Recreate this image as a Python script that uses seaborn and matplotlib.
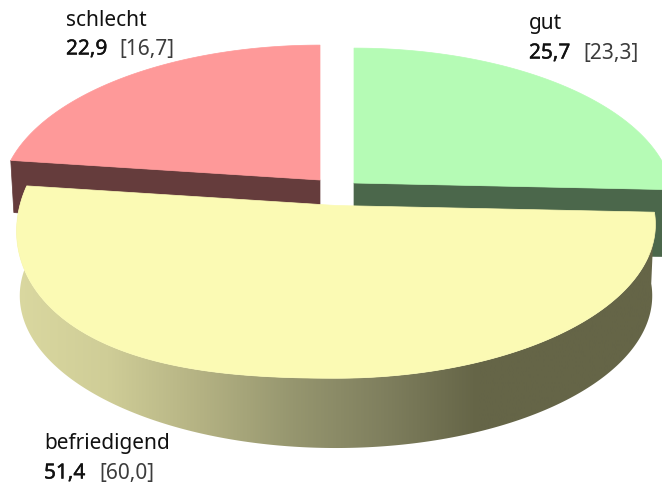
import numpy as np
import pandas as pd
import seaborn as sns
import matplotlib.pyplot as plt
import matplotlib.patheffects as pe
from matplotlib.patches import Polygon

# Data
categories = ['gut', 'befriedigend', 'schlecht']
values = [25.7, 51.4, 22.9]
ref_values = ['[23,3]', '[60,0]', '[16,7]']

df = pd.DataFrame({'category': categories, 'value': values, 'ref': ref_values})
df['start'] = df['value'].cumsum().shift(fill_value=0) / df['value'].sum()
df['end'] = df['value'].cumsum() / df['value'].sum()

# Colours
top_colors = {'gut': '#b5fbb5', 'befriedigend': '#fbfab4', 'schlecht': '#fe9999'}
cut_colors = {'gut': '#4b674b', 'schlecht': '#653c3c'}
side_colors = sns.blend_palette(['#dad8a0', '#cfcd97', '#b4b283', '#96966f', '#7f7f5e',
                                 '#656547', '#656547', '#656547'], 256)

# Layout of the pie in pixels
apex = {'gut': (354, 184), 'befriedigend': (336, 206.5), 'schlecht': (320, 181)}
depth = {'gut': 67, 'befriedigend': 71.5, 'schlecht': 52}
rx, ry, persp, shrink = 317, 151.5, 0.123, 0.99
bulge = 15  # front left of the yellow top sits a bit lower in the reference
label_pos = {'gut': (529, 24, 529, 54, 583), 'befriedigend': (44, 443, 44, 474, 99), 'schlecht': (66, 20, 66, 50, 119)}

sns.set_theme(style='white')
plt.rcParams['font.family'] = ['Noto Sans', 'DejaVu Sans']

fig = plt.figure(figsize=(6.62, 4.89), dpi=100)
ax = fig.add_axes([0, 0, 1, 1])
ax.set_xlim(0, 662)
ax.set_ylim(489, 0)
ax.axis('off')


def rim(cat, start, end, n=300):
    # top rim of a slice, with a simple perspective
    t = 2 * np.pi * np.linspace(start, end, n)
    s = 1 / (1 + persp * np.cos(t))
    cx, cy = apex[cat]
    return np.column_stack([cx + rx * np.sin(t) * s, cy - ry * np.cos(t) * s])


def lower(cat, pts):
    # the same points on the underside of the slice
    cx, cy = apex[cat]
    return np.column_stack([cx + shrink * (pts[:, 0] - cx), cy + depth[cat] + shrink * (pts[:, 1] - cy)])


# back slices first, yellow last because it sits in front
for cat in ['gut', 'schlecht', 'befriedigend']:
    row = df[df['category'] == cat].iloc[0]
    pts = rim(cat, row['start'], row['end'])
    centre = np.array([apex[cat]], dtype=float)

    if cat == 'befriedigend':
        top = pts.copy()
        # only the part left of the bottom point, from bottom to the left corner
        t = np.linspace(row['start'], row['end'], len(pts))
        u = np.clip((t - 0.5) / (row['end'] - 0.5), 0, 1)
        top[:, 1] += bulge * np.sin(np.pi * u) * (1 - (1 - u) ** 4)
        side = np.vstack([top, lower(cat, pts)[::-1]])
        clip = Polygon(side, closed=True, transform=ax.transData)
        im = ax.imshow(np.array(side_colors)[None, :, :], extent=[15, 662, 489, 0], aspect='auto', zorder=3)
        im.set_clip_path(clip)
        pts = top
    else:
        edge = pts[-1:] if cat == 'gut' else pts[:1]
        face = np.vstack([centre, edge, lower(cat, edge), lower(cat, centre)])
        ax.add_patch(Polygon(face, closed=True, fc=cut_colors[cat], ec=cut_colors[cat], lw=0.5, zorder=2))

    ax.add_patch(Polygon(np.vstack([centre, pts]), closed=True, fc=top_colors[cat],
                         ec=top_colors[cat], lw=0.5, zorder=4))

ax.set_xlim(0, 662)
ax.set_ylim(489, 0)

# Labels
for _, row in df.iterrows():
    x1, y1, x2, y2, x3 = label_pos[row['category']]
    ax.text(x1, y1, row['category'], fontsize=15, color='#111111', va='center', zorder=5)
    val = ax.text(x2, y2, f"{row['value']:.1f}".replace('.', ','), fontsize=15,
                  color='#111111', va='center', zorder=5)
    val.set_path_effects([pe.withStroke(linewidth=0.3, foreground='#111111')])
    ax.text(x3, y2, row['ref'], fontsize=15, color='#3c3c3c', va='center', zorder=5)

fig.savefig('out.png', dpi=100)
